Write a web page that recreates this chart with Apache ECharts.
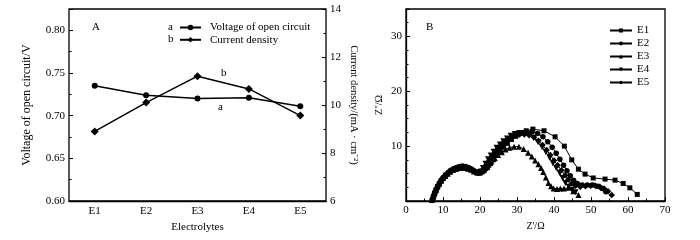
<!DOCTYPE html>
<html>
<head>
<meta charset="utf-8">
<script src="https://cdn.jsdelivr.net/npm/echarts@6/dist/echarts.min.js"></script>
<style>
  html, body { margin: 0; padding: 0; background: #fff; }
  #chart { width: 700px; height: 240px; }
</style>
</head>
<body>
<div id="chart"></div>
<script>
// panel A
const electrolytes = ['E1', 'E2', 'E3', 'E4', 'E5']
const voltageOC = [0.735, 0.724, 0.720, 0.721, 0.711]
const currentDensity = [8.9, 10.1, 11.2, 10.67, 9.56]

// panel B: Nyquist points [Z', Z'']
const eisE1 = [[7.2,0.2],[7.5,0.8],[7.8,1.4],[8.2,2],[8.6,2.6],[9,3.1],[9.5,3.6],[10,4.1],[10.6,4.5],[11.2,4.9],[11.9,5.3],[12.6,5.6],[13.4,5.8],[14.2,6],[15,6.1],[15.8,6.1],[16.6,6],[17.4,5.8],[18.2,5.5],[19,5.3],[19.8,5.2],[20.5,5.3],
  [21.2,5.6],[22,6.1],[22.8,6.8],[23.6,7.5],[24.5,8.3],[25.4,9],[26.4,9.8],[27.4,10.5],[28.5,11.2],[29.7,11.8],[31,12.4],[32.5,12.8],[34.3,13.1],[37.3,12.8],[40.3,11.7],[42.8,10],[44.8,7.5],[46.6,5.8],[48.4,4.9],[50.6,4.2],[53.8,4],[56.5,3.8],[58.7,3.2],[60.5,2.4],[62.5,1.2]]
const eisE2 = [[7.1,0.3],[7.4,0.9],[7.7,1.5],[8.1,2.1],[8.5,2.7],[9,3.3],[9.5,3.8],[10.1,4.3],[10.7,4.8],[11.4,5.2],[12.1,5.6],[12.9,5.9],[13.7,6.1],[14.5,6.3],[15.3,6.4],[16.1,6.3],[16.9,6.1],[17.7,5.8],[18.5,5.4],[19.3,5.1],[20,5.1],
  [20.7,5.4],[21.4,6],[22.1,6.8],[22.9,7.6],[23.7,8.4],[24.6,9.2],[25.5,9.9],[26.5,10.6],[27.5,11.2],[28.6,11.7],[29.8,12.1],[31.1,12.4],[32.5,12.6],[34,12.6],[35.6,12.3],[37,11.7],[38.3,10.8],[39.5,9.8],[40.6,8.7],[41.6,7.6],[42.6,6.5],[43.5,5.5],[44.4,4.6],[45.3,3.8],[46.3,3.2],[47.6,2.9],[49,2.9],[50.4,2.9],[51.8,2.7],[53,2.3],[54,1.7]]
const eisE3 = [[7,0.2],[7.3,0.8],[7.6,1.4],[8,2],[8.4,2.6],[8.9,3.2],[9.4,3.7],[10,4.2],[10.6,4.6],[11.3,5],[12,5.4],[12.8,5.7],[13.6,5.9],[14.4,6],[15.2,6.1],[16,6],[16.8,5.9],[17.6,5.7],[18.4,5.4],[19.2,5.2],[20,5.2],
  [20.7,5.5],[21.5,6],[22.3,6.6],[23.1,7.2],[24,7.8],[24.9,8.4],[25.9,8.9],[26.9,9.4],[28,9.7],[29.2,9.9],[30.5,9.9],[31.8,9.5],[33,8.8],[34,8.1],[34.9,7.4],[35.8,6.7],[36.5,6],[37.1,5.3],[37.8,4.3],[38.5,3.3],[39.2,2.7],[39.9,2.3],[40.8,2.2],[41.7,2.3],[42.7,2.3],[43.9,2.4],[45.2,1.8],[46.6,1.1]]
const eisE4 = [[7.3,0.1],[7.6,0.7],[7.9,1.3],[8.3,1.9],[8.7,2.5],[9.2,3.1],[9.7,3.6],[10.3,4.1],[10.9,4.6],[11.6,5],[12.3,5.4],[13.1,5.7],[13.9,5.9],[14.7,6],[15.5,6.1],[16.3,6],[17.1,5.8],[17.9,5.5],[18.7,5.2],[19.5,5.1],[20.2,5.4],
  [20.8,6],[21.5,6.8],[22.2,7.6],[22.9,8.3],[23.7,9],[24.5,9.7],[25.4,10.3],[26.3,10.9],[27.3,11.4],[28.3,11.9],[29.4,12.2],[30.6,12.4],[31.9,12.4],[33.2,12.1],[34.5,11.5],[35.7,10.7],[36.8,9.8],[37.8,8.9],[38.8,7.9],[39.7,6.9],[40.6,6],[41.5,5.1],[42.3,4.2],[43.1,3.3],[44,2.6],[44.9,2],[45.8,1.6]]
const eisE5 = [[7.2,0.3],[7.5,0.9],[7.9,1.5],[8.3,2.2],[8.8,2.8],[9.3,3.4],[9.8,3.9],[10.4,4.4],[11,4.8],[11.7,5.3],[12.4,5.6],[13.2,5.9],[14,6.1],[14.8,6.2],[15.6,6.2],[16.4,6.1],[17.2,5.9],[18,5.6],[18.8,5.3],[19.6,5.2],[20.3,5.4],
  [21,5.9],[21.7,6.6],[22.5,7.4],[23.3,8.2],[24.2,8.9],[25.1,9.7],[26.1,10.4],[27.1,11],[28.2,11.5],[29.4,11.9],[30.7,12.1],[32,12.1],[33.3,12],[34.6,11.6],[35.8,11],[36.9,10.2],[38,9.3],[39,8.4],[40,7.4],[41,6.5],[42,5.6],[43,4.7],[43.9,3.9],[44.8,3.2],[45.8,2.8],[47.1,2.6],[48.5,2.7],[49.9,2.8],[51.2,2.8],[52.4,2.6],[53.5,2.3],[54.6,1.8],[55.6,1.1]]

const FONT = "'Liberation Serif', 'Times New Roman', serif"
const chart = echarts.init(document.getElementById('chart'))

let axisBase = {
  axisLine: { lineStyle: { color: '#000', width: 1.3 } },
  axisTick: { show: true, inside: true, length: 4, lineStyle: { color: '#000' } },
  minorTick: { show: true, splitNumber: 2, length: 2.5, lineStyle: { color: '#000' } },
  splitLine: { show: false },
  axisLabel: { color: '#000', fontFamily: FONT, fontSize: 11, margin: 4 },
  nameTextStyle: { color: '#000', fontFamily: FONT, fontSize: 11 },
}

let lineSeries = (name, data, symbol, size, extra) => Object.assign({
  name: name,
  type: 'line',
  data: data,
  symbol: symbol,
  symbolSize: size,
  showAllSymbol: true,
  lineStyle: { color: '#000', width: 1 },
  itemStyle: { color: '#000' },
  animation: false,
}, extra)

let option = {
  backgroundColor: '#fff',
  animation: false,
  grid: [
    { left: 69, right: 374, top: 9, bottom: 39, show: true, borderColor: '#000', borderWidth: 1.3 },
    { left: 406, right: 35, top: 9, bottom: 39, show: true, borderColor: '#000', borderWidth: 1.3 },
  ],
  xAxis: [
    {
      ...axisBase,
      type: 'category',
      gridIndex: 0,
      data: electrolytes,
      boundaryGap: true,
      axisTick: { show: false },
      minorTick: { show: false },
      name: 'Electrolytes',
      nameLocation: 'middle',
      nameGap: 15,
      axisLabel: { ...axisBase.axisLabel, margin: 5 },
    },
    {
      ...axisBase,
      type: 'value',
      gridIndex: 1,
      min: 0,
      max: 70,
      interval: 10,
      name: "Z'/Ω",
      nameLocation: 'middle',
      nameGap: 15,
      nameTextStyle: { ...axisBase.nameTextStyle, fontSize: 10 },
      axisLabel: { ...axisBase.axisLabel, margin: 4 },
    },
  ],
  yAxis: [
    {
      ...axisBase,
      type: 'value',
      gridIndex: 0,
      position: 'left',
      min: 0.6,
      max: 0.825,
      interval: 0.05,
      name: 'Voltage of open circuit/V',
      nameLocation: 'middle',
      nameGap: 36,
      nameTextStyle: { ...axisBase.nameTextStyle, fontSize: 12 },
      axisLabel: { ...axisBase.axisLabel, showMaxLabel: false, formatter: (v) => v.toFixed(2) },
    },
    {
      ...axisBase,
      type: 'value',
      gridIndex: 0,
      position: 'right',
      min: 6,
      max: 14,
      interval: 2,
      name: 'Current density/(mA · cm⁻²)',
      nameLocation: 'middle',
      nameRotate: -90,
      nameGap: 22,
      nameTextStyle: { ...axisBase.nameTextStyle, fontSize: 10.5 },
    },
    {
      ...axisBase,
      type: 'value',
      gridIndex: 1,
      min: 0,
      max: 35,
      interval: 10,
      minorTick: { ...axisBase.minorTick, splitNumber: 4 },
      name: "Z''/Ω",
      nameLocation: 'middle',
      nameGap: 22,
      nameTextStyle: { ...axisBase.nameTextStyle, fontSize: 10 },
      axisLabel: { ...axisBase.axisLabel, showMinLabel: false, showMaxLabel: false },
    },
  ],
  legend: [
    {
      orient: 'vertical',
      left: 179,
      top: 22,
      padding: 0,
      itemWidth: 21,
      itemHeight: 7,
      itemGap: 1.3,
      textStyle: { color: '#000', fontFamily: FONT, fontSize: 11, padding: [0, 0, 0, 4] },
      data: ['Voltage of open circuit', 'Current density'],
    },
    {
      orient: 'vertical',
      left: 609,
      top: 25,
      padding: 0,
      itemWidth: 22,
      itemHeight: 5,
      itemGap: 2,
      textStyle: { color: '#000', fontFamily: FONT, fontSize: 11, padding: [0, 0, 0, 0] },
      data: ['E1', 'E2', 'E3', 'E4', 'E5'],
    },
  ],
  graphic: [
    { type: 'text', left: 92, top: 22, style: { text: 'A', font: '11px ' + FONT, fill: '#000' } },
    { type: 'text', left: 426, top: 22, style: { text: 'B', font: '11px ' + FONT, fill: '#000' } },
    { type: 'text', left: 168, top: 22, style: { text: 'a', font: '11px ' + FONT, fill: '#000' } },
    { type: 'text', left: 168, top: 34, style: { text: 'b', font: '11px ' + FONT, fill: '#000' } },
    { type: 'text', left: 221, top: 68, style: { text: 'b', font: '11px ' + FONT, fill: '#000' } },
    { type: 'text', left: 218, top: 102, style: { text: 'a', font: '11px ' + FONT, fill: '#000' } },
  ],
  series: [
    lineSeries('Voltage of open circuit', voltageOC, 'circle', 6, { xAxisIndex: 0, yAxisIndex: 0, lineStyle: { color: '#000', width: 1.5 } }),
    lineSeries('Current density', currentDensity, 'diamond', 8, { xAxisIndex: 0, yAxisIndex: 1, lineStyle: { color: '#000', width: 1.5 } }),
    lineSeries('E1', eisE1, 'rect', 5, { xAxisIndex: 1, yAxisIndex: 2 }),
    lineSeries('E2', eisE2, 'circle', 5.5, { xAxisIndex: 1, yAxisIndex: 2 }),
    lineSeries('E3', eisE3, 'triangle', 6, { xAxisIndex: 1, yAxisIndex: 2 }),
    lineSeries('E4', eisE4, 'triangle', 6, { xAxisIndex: 1, yAxisIndex: 2, symbolRotate: 180 }),
    lineSeries('E5', eisE5, 'diamond', 6.5, { xAxisIndex: 1, yAxisIndex: 2 }),
  ],
}

chart.setOption(option)
</script>
</body>
</html>
